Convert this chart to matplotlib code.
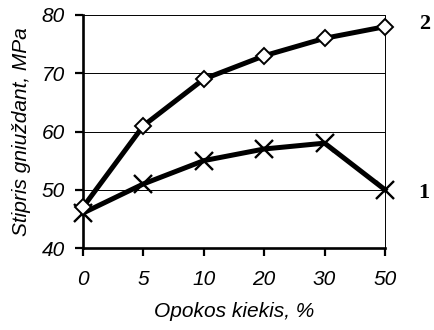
import matplotlib.pyplot as plt

# Compressive strength vs opoka content
categories = ['0', '5', '10', '20', '30', '50']
series_2 = [47, 61, 69, 73, 76, 78]
series_1 = [46, 51, 55, 57, 58, 50]

fig = plt.figure(figsize=(4.34, 3.30), dpi=100)
ax = fig.add_axes([83 / 434, 1 - 248 / 330, (385 - 83) / 434, (248 - 15) / 330])

x = list(range(len(categories)))
ax.plot(x, series_1, color='black', lw=3.6, marker='x', ms=13, mew=1.7,
        clip_on=False, zorder=3)
ax.plot(x, series_2, color='black', lw=3.6, marker='D', ms=8.5, mew=1.4,
        mfc='white', mec='black', clip_on=False, zorder=4)

ax.set_xlim(0, len(categories) - 1)
ax.set_ylim(40, 80)
ax.set_yticks([40, 50, 60, 70, 80])
ax.set_xticks(x)
ax.set_xticklabels(categories)

for y in [50, 60, 70, 80]:
    ax.axhline(y, color='black', lw=0.7, zorder=1)

for side in ['left', 'bottom']:
    ax.spines[side].set_linewidth(1.9)
ax.spines['top'].set_visible(False)
ax.spines['right'].set_linewidth(0.7)

tick_font = dict(family='Liberation Sans', style='italic', size=15)
ax.tick_params(axis='both', direction='out', length=6, width=1.6)
ax.tick_params(axis='y', pad=7)
ax.tick_params(axis='x', pad=10)
for lbl in ax.get_xticklabels() + ax.get_yticklabels():
    lbl.set_fontfamily('Liberation Sans')
    lbl.set_fontstyle('italic')
    lbl.set_fontsize(15)

ax.set_xlabel('Opokos kiekis, %', fontdict=tick_font, labelpad=9)
ax.set_ylabel('Stipris gniuždant, MPa', fontdict=tick_font, labelpad=8)

# Curve numbers
ax.text(1.13, series_2[-1] + 0.4, '2', transform=ax.get_yaxis_transform(),
        family='Liberation Serif', weight='bold', size=16, va='center', ha='center')
ax.text(1.13, series_1[-1] - 0.6, '1', transform=ax.get_yaxis_transform(),
        family='Liberation Serif', weight='bold', size=16, va='center', ha='center')

fig.savefig('out.png', dpi=100)
